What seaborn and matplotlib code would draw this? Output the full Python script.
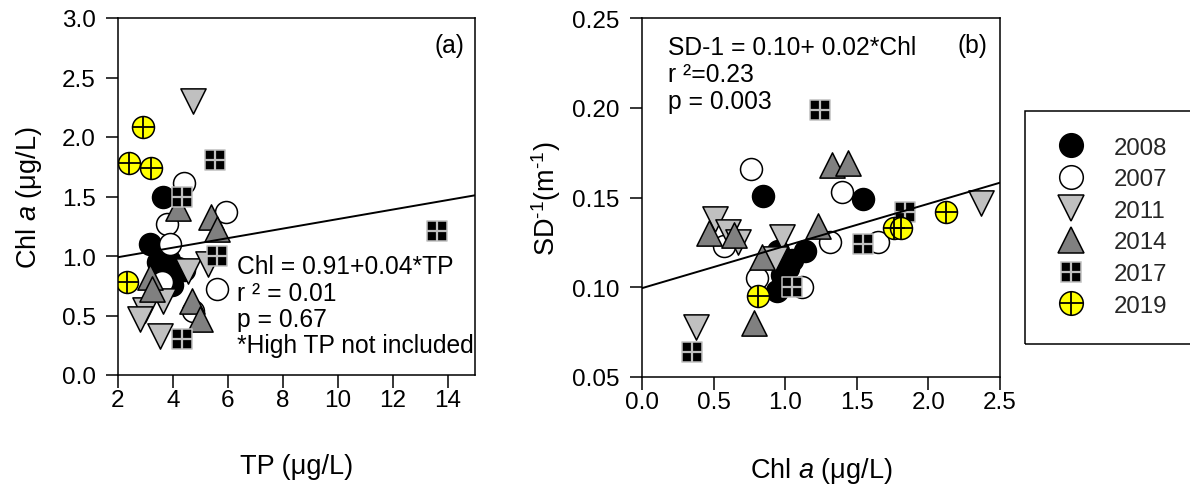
import numpy as np
import pandas as pd
import matplotlib
matplotlib.use("Agg")
import matplotlib.pyplot as plt
import seaborn as sns
from matplotlib.lines import Line2D
from matplotlib.patches import Rectangle

# ---------------- data ----------------
years = ["2008", "2007", "2011", "2014", "2017", "2019"]

# Panel (a): TP (x) vs Chl a (y)
a_tp = {
    "2008": [3.63, 3.16, 3.45, 3.85, 4.20, 4.40, 3.65, 3.95],
    "2007": [4.39, 3.78, 3.88, 5.95, 5.59, 4.72, 3.60],
    "2011": [4.72, 4.54, 5.26, 3.63, 2.98, 2.80, 3.52],
    "2014": [4.20, 5.37, 5.59, 3.16, 3.23, 4.68, 4.97],
    "2017": [5.55, 4.32, 5.59, 4.32, 13.6],
    "2019": [2.90, 2.40, 3.20, 2.33],
}
a_chl = {
    "2008": [1.50, 1.10, 0.95, 0.97, 0.90, 0.88, 0.80, 0.76],
    "2007": [1.61, 1.27, 1.10, 1.37, 0.72, 0.54, 0.78],
    "2011": [2.30, 0.87, 0.93, 0.62, 0.55, 0.47, 0.33],
    "2014": [1.40, 1.33, 1.23, 0.82, 0.72, 0.62, 0.47],
    "2017": [1.81, 1.50, 1.00, 0.30, 1.21],
    "2019": [2.08, 1.78, 1.74, 0.78],
}

# Panel (b): Chl a (x) vs SD^-1 (y)
b_chl = {
    "2008": [0.845, 1.54, 0.95, 1.05, 1.14, 0.98, 0.94, 1.02],
    "2007": [0.76, 1.40, 1.31, 1.65, 0.57, 0.80, 1.12],
    "2011": [0.51, 0.60, 0.67, 0.98, 0.93, 0.38, 2.37],
    "2014": [1.33, 1.44, 1.23, 0.47, 0.64, 0.84, 0.78],
    "2017": [1.24, 1.84, 1.54, 1.05, 0.35],
    "2019": [0.81, 1.76, 1.81, 2.12],
}
b_sd = {
    "2008": [0.151, 0.149, 0.120, 0.115, 0.120, 0.107, 0.098, 0.111],
    "2007": [0.166, 0.153, 0.125, 0.125, 0.123, 0.105, 0.100],
    "2011": [0.138, 0.131, 0.125, 0.128, 0.116, 0.078, 0.147],
    "2014": [0.168, 0.169, 0.134, 0.130, 0.129, 0.117, 0.080],
    "2017": [0.199, 0.142, 0.124, 0.100, 0.064],
    "2019": [0.095, 0.133, 0.133, 0.142],
}

# regression lines (intercept, slope)
fit_a = (0.91, 0.04)
fit_b = (0.0995, 0.0235)

text_a = ["Chl = 0.91+0.04*TP", "r \u00b2 = 0.01", "p = 0.67", "*High TP not included"]
text_b = ["SD-1 = 0.10+ 0.02*Chl", "r \u00b2=0.23", "p = 0.003"]

# ---------------- style ----------------
sns.set_theme(style="white")
plt.rcParams["font.family"] = ["Liberation Sans", "DejaVu Sans"]
plt.rcParams["mathtext.fontset"] = "custom"
plt.rcParams["mathtext.rm"] = "Liberation Sans"
plt.rcParams["mathtext.it"] = "Liberation Sans:italic"
plt.rcParams["mathtext.bf"] = "Liberation Sans:bold"

TICK_FS = 17.5
ANN_FS = 17.7
LAB_FS = 19.5
LEG_FS = 17.3

styles = {
    "2008": dict(marker="o", fc="black", ec="black", s=250),
    "2007": dict(marker="o", fc="white", ec="black", s=250),
    "2011": dict(marker="v", fc="#c0c0c0", ec="black", s=330),
    "2014": dict(marker="^", fc="#808080", ec="black", s=330),
    "2017": dict(marker="s", fc="black", ec="#c0c0c0", s=210),
    "2019": dict(marker="o", fc="#ffff00", ec="black", s=250),
}
overlay = {
    "2017": dict(color="#c0c0c0", s=210, lw=1.6),
    "2019": dict(color="black", s=250, lw=1.3),
}

rows = []
for y in years:
    for xv, yv in zip(a_tp[y], a_chl[y]):
        rows.append(("a", y, xv, yv))
    for xv, yv in zip(b_chl[y], b_sd[y]):
        rows.append(("b", y, xv, yv))
df = pd.DataFrame(rows, columns=["panel", "year", "x", "y"])

fig = plt.figure(figsize=(11.9, 4.85), dpi=100)
ax_a = fig.add_axes([118 / 1190, 1 - 376 / 485, (475 - 118) / 1190, (376 - 19) / 485])
ax_b = fig.add_axes([642 / 1190, 1 - 378 / 485, (1000 - 642) / 1190, (378 - 19) / 485])


def draw(ax, panel):
    sub = df[df.panel == panel]
    for y in years:
        d = sub[sub.year == y]
        st = styles[y]
        sns.scatterplot(data=d, x="x", y="y", marker=st["marker"], color=st["fc"],
                        edgecolor=st["ec"], linewidth=1.1, s=st["s"], ax=ax,
                        legend=False)
        if y in overlay:
            ov = overlay[y]
            sns.scatterplot(data=d, x="x", y="y", marker="+", color=ov["color"],
                            s=ov["s"], linewidth=ov["lw"], ax=ax, legend=False)


draw(ax_a, "a")
draw(ax_b, "b")

xa = np.array([2.0, 15.0])
ax_a.plot(xa, fit_a[0] + fit_a[1] * xa, color="black", lw=1.4, zorder=5)
xb = np.array([0.0, 2.5])
ax_b.plot(xb, fit_b[0] + fit_b[1] * xb, color="black", lw=1.4, zorder=5)

ax_a.set_xlim(2, 15)
ax_a.set_ylim(0, 3)
ax_a.set_xticks([2, 4, 6, 8, 10, 12, 14])
ax_a.set_yticks([0.0, 0.5, 1.0, 1.5, 2.0, 2.5, 3.0])
ax_b.set_xlim(0, 2.5)
ax_b.set_ylim(0.05, 0.25)
ax_b.set_xticks([0.0, 0.5, 1.0, 1.5, 2.0, 2.5])
ax_b.set_yticks([0.05, 0.10, 0.15, 0.20, 0.25])

for ax in (ax_a, ax_b):
    ax.tick_params(bottom=True, left=True, direction="out", length=9, width=1.1,
                   labelsize=TICK_FS, color="black", labelcolor="black")
    ax.tick_params(axis="y", pad=7)
    ax.tick_params(axis="x", pad=1)
    for sp in ax.spines.values():
        sp.set_color("black")
        sp.set_linewidth(1.1)
    ax.set_facecolor("white")

ax_a.set_xlabel("TP (\u03bcg/L)", fontsize=LAB_FS, labelpad=30, color="black")
ax_a.set_ylabel("Chl $a$ (\u03bcg/L)", fontsize=LAB_FS, labelpad=13, color="black")
ax_b.set_xlabel("Chl $a$ (\u03bcg/L)", fontsize=LAB_FS, labelpad=30, color="black")
ax_b.set_ylabel("SD$^{\u20101}$(m$^{\u20101}$)", fontsize=LAB_FS, labelpad=7, color="black")

ys_a = [0.305, 0.230, 0.157, 0.084]
for t, yy in zip(text_a, ys_a):
    ax_a.text(0.333, yy, t, transform=ax_a.transAxes, fontsize=ANN_FS, va="center",
              ha="left", color="black", zorder=6)
ax_a.text(0.969, 0.924, "(a)", transform=ax_a.transAxes, fontsize=ANN_FS,
          va="center", ha="right", color="black")

ys_b = [0.919, 0.844, 0.769]
for t, yy in zip(text_b, ys_b):
    ax_b.text(0.073, yy, t, transform=ax_b.transAxes, fontsize=ANN_FS, va="center",
              ha="left", color="black")
ax_b.text(0.966, 0.925, "(b)", transform=ax_b.transAxes, fontsize=ANN_FS,
          va="center", ha="right", color="black")

# legend
handles = []
leg_ms = {"o": 17, "v": 19, "^": 19, "s": 15}
for y in years:
    st = styles[y]
    base = Line2D([], [], linestyle="none", marker=st["marker"], markerfacecolor=st["fc"],
                  markeredgecolor=st["ec"], markeredgewidth=1.1,
                  markersize=leg_ms[st["marker"]])
    if y in overlay:
        ov = overlay[y]
        plus = Line2D([], [], linestyle="none", marker="+", color=ov["color"],
                      markersize=leg_ms[st["marker"]], markeredgewidth=ov["lw"])
        handles.append((base, plus))
    else:
        handles.append(base)

fig.add_artist(Rectangle((1025 / 1190, 1 - 345 / 485), 0.3, (345 - 112) / 485,
                         transform=fig.transFigure, fill=False, edgecolor="black",
                         linewidth=1.1, clip_on=False))
fig.legend(handles, years, loc="upper left", bbox_to_anchor=(1025 / 1190, 1 - 116 / 485),
           frameon=False, fontsize=LEG_FS, handlelength=2.0, handletextpad=0.79,
           labelspacing=0.40, borderpad=0.4)

fig.savefig("out.png", dpi=100, facecolor="white")
